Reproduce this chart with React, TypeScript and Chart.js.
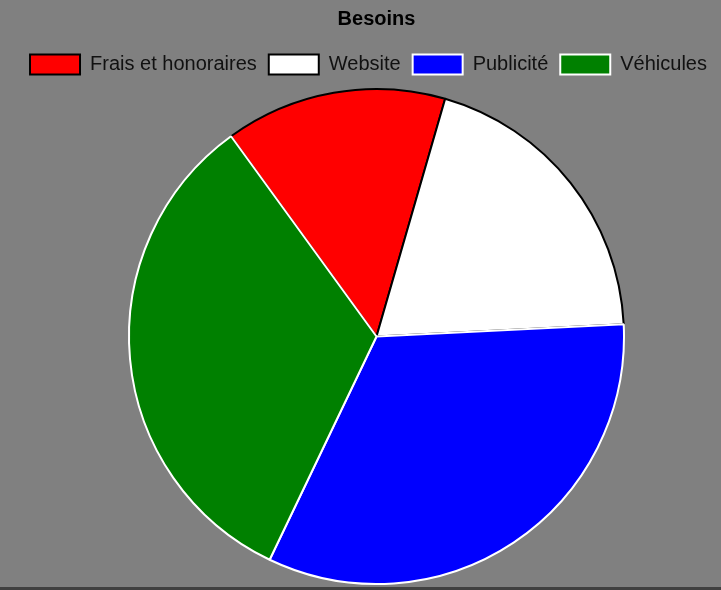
import React, { useEffect, useRef } from "react";
import { Chart, registerables } from "chart.js";

Chart.register(...registerables);

const categories = ["Frais et honoraires", "Website", "Publicité", "Véhicules"];
const values = [1100, 1500, 2500, 2500];
const colors = ["#ff0000", "#ffffff", "#0000ff", "#008000"];
const borders = ["#000000", "#000000", "#ffffff", "#ffffff"];
const title = "Besoins";

const legendShift = {
  id: "legendShift",
  afterLayout(chart: any) {
    if (chart.legend) {
      chart.legend.left -= 8;
      chart.legend.right -= 8;
      chart.legend.top -= 3.5;
      chart.legend.bottom -= 3.5;
    }
  },
};

export default function App() {
  const ref = useRef<HTMLCanvasElement>(null);
  useEffect(() => {
    if (!ref.current) return;
    const chart = new Chart(ref.current, {
      type: "pie",
      data: {
        labels: categories,
        datasets: [
          {
            data: values,
            backgroundColor: colors,
            borderColor: borders,
            borderWidth: 2,
          },
        ],
      },
      options: {
        animation: false,
        responsive: false,
        rotation: -36,
        layout: { padding: { top: 0, bottom: 2 } },
        plugins: {
          title: {
            display: true,
            text: title,
            color: "#000",
            font: { family: "Arial, 'Liberation Sans'", size: 20, weight: "bold" },
            padding: { top: 7, bottom: 15 },
          },
          legend: {
            position: "top",
            labels: {
              color: "#111",
              boxWidth: 50,
              boxHeight: 20,
              padding: 12,
              font: { family: "Arial, 'Liberation Sans'", size: 20 },
            },
          },
          tooltip: { enabled: false },
        },
      },
      plugins: [legendShift],
    });
    return () => chart.destroy();
  }, []);
  return (
    <div style={{ position: "fixed", left: 0, top: 0, width: 721, height: 590, background: "#404040", overflow: "hidden" }}>
      <div style={{ width: 721, height: 587, background: "#808080", overflow: "hidden" }}>
        <canvas ref={ref} width={753} height={587} style={{ display: "block" }} />
      </div>
    </div>
  );
}
